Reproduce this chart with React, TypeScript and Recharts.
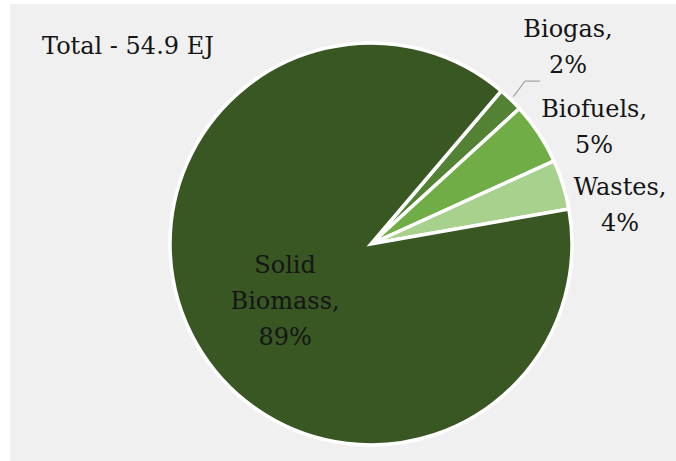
import React from "react";
import { PieChart, Pie, Cell } from "recharts";

// Bioenergy supply by source, share of total (%)
const sources = ["Biogas", "Biofuels", "Wastes", "Solid Biomass"];
const shares = [2, 5, 4, 89];
const colors = ["#548235", "#70AD47", "#A9D18E", "#385723"];
const totalLabel = "Total - 54.9 EJ";

const data = sources.map((name, i) => ({ name, value: shares[i] }));

const W = 676;
const H = 461;
const CX = 371;
const CY = 244;
const R = 201;
const FONT = "'DejaVu Serif', serif";
const TEXT = "#151515";
const LINE_H = 36;

// label anchor per slice: radius as a multiple of the outer radius, angle shift from slice middle
const labelSpots: Record<string, { r: number; da: number; lines: (v: number) => string[] }> = {
  Biogas: { r: 1.358, da: -2.2, lines: (v) => ["Biogas,", `${v}%`] },
  Biofuels: { r: 1.235, da: -7.4, lines: (v) => ["Biofuels,", `${v}%`] },
  Wastes: { r: 1.248, da: -10.2, lines: (v) => ["Wastes,", `${v}%`] },
  "Solid Biomass": { r: 0.536, da: 7.3, lines: (v) => ["Solid", "Biomass,", `${v}%`] },
};

const RAD = Math.PI / 180;
const polar = (cx: number, cy: number, r: number, deg: number) => ({
  x: cx + r * Math.cos(-deg * RAD),
  y: cy + r * Math.sin(-deg * RAD),
});

const renderLabel = (props: any) => {
  const { cx, cy, midAngle, outerRadius, name, value } = props;
  const spot = labelSpots[name];
  if (!spot) return null;
  const p = polar(cx, cy, outerRadius * spot.r, midAngle + spot.da);
  const lines = spot.lines(value);
  const n = lines.length;
  let leader = null;
  if (name === "Biogas") {
    const s = polar(cx, cy, outerRadius + 4, midAngle);
    leader = (
      <polyline
        points={`${s.x},${s.y} ${p.x - 43},${p.y + 26} ${p.x - 28},${p.y + 26}`}
        fill="none"
        stroke="#a6a6a6"
        strokeWidth={1.3}
      />
    );
  }
  return (
    <g key={`lbl-${name}`}>
      {leader}
      <text x={p.x} textAnchor="middle" fontFamily={FONT} fontSize={24} fill={TEXT}>
        {lines.map((t, i) => (
          <tspan key={i} x={p.x} y={p.y + (i - (n - 1) / 2) * LINE_H}>
            {t}
          </tspan>
        ))}
      </text>
    </g>
  );
};

export default function App() {
  return (
    <div style={{ position: "absolute", left: 0, top: 0, width: W, height: H, background: "#ffffff", overflow: "hidden" }}>
      <div style={{ position: "absolute", left: 10, top: 4, right: 0, bottom: 0, background: "#f0f0f0" }} />
      <div style={{ position: "absolute", left: 0, top: 0 }}>
        <PieChart width={W} height={H} margin={{ top: 0, right: 0, bottom: 0, left: 0 }}>
          <Pie
            data={data}
            dataKey="value"
            nameKey="name"
            cx={CX}
            cy={CY}
            outerRadius={R}
            startAngle={49.6}
            endAngle={-310.4}
            stroke="#ffffff"
            strokeWidth={3.5}
            label={renderLabel}
            labelLine={false}
            isAnimationActive={false}
          >
            {data.map((d, i) => (
              <Cell key={d.name} fill={colors[i]} />
            ))}
          </Pie>
        </PieChart>
      </div>
      <svg width={W} height={H} style={{ position: "absolute", left: 0, top: 0, pointerEvents: "none" }}>
        <text x={42} y={54} fontFamily={FONT} fontSize={24} fill={TEXT}>
          {totalLabel}
        </text>
      </svg>
    </div>
  );
}
